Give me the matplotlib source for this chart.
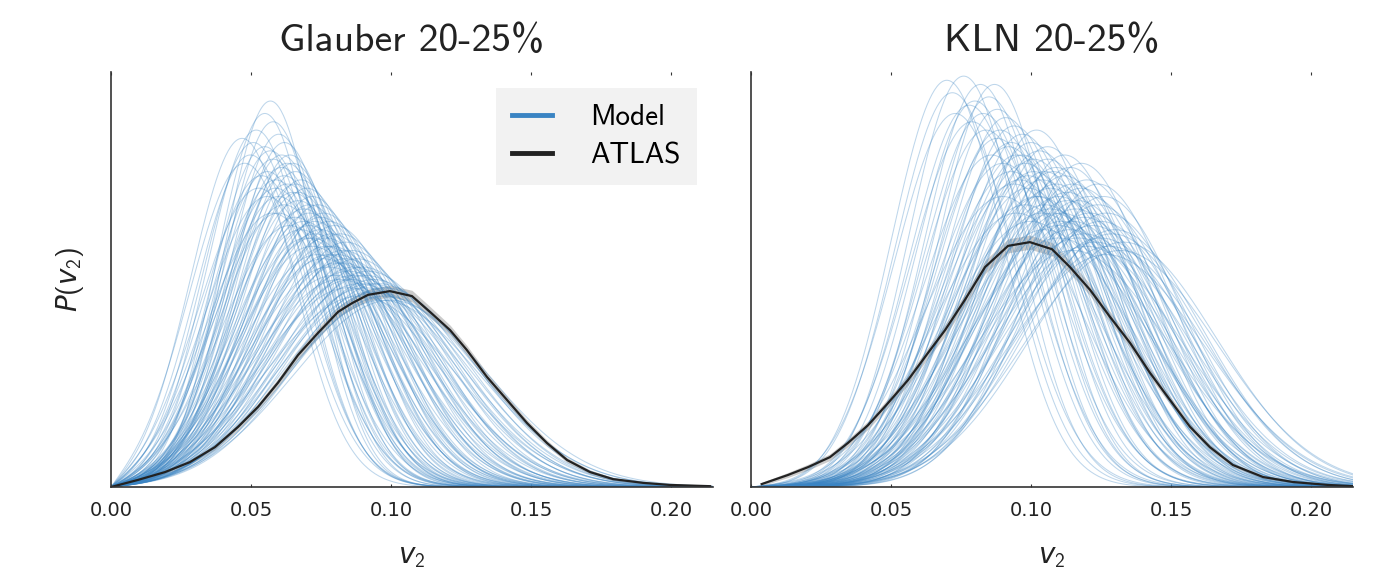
import numpy as np
import matplotlib.pyplot as plt

plt.rcParams["font.family"] = ["cmss10", "DejaVu Sans"]
plt.rcParams["mathtext.fontset"] = "custom"
plt.rcParams["mathtext.rm"] = "cmss10"
plt.rcParams["mathtext.it"] = "DejaVu Sans:italic"
plt.rcParams["axes.unicode_minus"] = False

# ATLAS v2 distribution, 20-25% (y in axis units)
glauber_atlas_v2 = [0.0, 0.0096, 0.0193, 0.0282, 0.0371, 0.0454, 0.0525, 0.0596,
                    0.0668, 0.0739, 0.0811, 0.0861, 0.0918, 0.0996, 0.1075, 0.1139,
                    0.1211, 0.1271, 0.1343, 0.1414, 0.1486, 0.1557, 0.1629, 0.1711,
                    0.1793, 0.1900, 0.1996, 0.2140]
glauber_atlas_p = [0.0, 0.017, 0.036, 0.060, 0.096, 0.145, 0.193, 0.251,
                   0.318, 0.371, 0.422, 0.443, 0.463, 0.472, 0.460, 0.422,
                   0.378, 0.330, 0.265, 0.210, 0.154, 0.106, 0.065, 0.036,
                   0.019, 0.010, 0.005, 0.002]
glauber_atlas_err = [0.002, 0.004, 0.005, 0.006, 0.007, 0.008, 0.009, 0.010,
                     0.011, 0.012, 0.013, 0.014, 0.014, 0.014, 0.014, 0.013,
                     0.012, 0.011, 0.010, 0.009, 0.008, 0.007, 0.006, 0.005,
                     0.004, 0.003, 0.002, 0.002]

kln_atlas_v2 = [0.0038, 0.0132, 0.0204, 0.0282, 0.0346, 0.0418, 0.0489, 0.0561,
                0.0632, 0.0693, 0.0764, 0.0836, 0.0918, 0.0996, 0.1075, 0.1139,
                0.1211, 0.1282, 0.1354, 0.1425, 0.1496, 0.1568, 0.1639, 0.1721,
                0.1829, 0.1936, 0.2060, 0.2150]
kln_atlas_p = [0.007, 0.029, 0.048, 0.072, 0.106, 0.149, 0.202, 0.258,
               0.323, 0.378, 0.451, 0.530, 0.581, 0.590, 0.573, 0.530,
               0.475, 0.410, 0.347, 0.275, 0.210, 0.145, 0.096, 0.053,
               0.024, 0.012, 0.005, 0.002]
kln_atlas_err = [0.004, 0.006, 0.007, 0.008, 0.009, 0.010, 0.011, 0.012,
                 0.013, 0.014, 0.015, 0.016, 0.017, 0.017, 0.016, 0.015,
                 0.014, 0.013, 0.012, 0.011, 0.010, 0.008, 0.007, 0.005,
                 0.004, 0.003, 0.002, 0.002]

# model curves: peak position and peak height of each drawn curve
glauber_mode = [0.057, 0.047, 0.055, 0.058, 0.052, 0.060, 0.055, 0.062, 0.050, 0.058,
                0.064, 0.061, 0.056, 0.066, 0.059, 0.063, 0.068, 0.053, 0.065, 0.070,
                0.060, 0.067, 0.072, 0.062, 0.069, 0.074, 0.058, 0.066, 0.071, 0.076,
                0.064, 0.073, 0.078, 0.068, 0.075, 0.080, 0.070, 0.077, 0.082, 0.072,
                0.079, 0.084, 0.074, 0.081, 0.086, 0.076, 0.083, 0.088, 0.078, 0.085,
                0.090, 0.080, 0.087, 0.092, 0.082, 0.089, 0.094, 0.091, 0.096, 0.093,
                0.048, 0.054, 0.063, 0.071, 0.085, 0.098,
                0.051, 0.057, 0.061, 0.065, 0.059, 0.067, 0.069, 0.073, 0.077, 0.081,
                0.083, 0.087, 0.091, 0.095, 0.097, 0.100, 0.089, 0.079, 0.075, 0.071,
                0.066, 0.062, 0.056, 0.086, 0.093, 0.098, 0.084, 0.078, 0.072, 0.060]
glauber_height = [0.93, 0.84, 0.90, 0.88, 0.86, 0.85, 0.82, 0.83, 0.80, 0.79,
                  0.80, 0.77, 0.76, 0.76, 0.74, 0.73, 0.74, 0.72, 0.71, 0.72,
                  0.70, 0.69, 0.70, 0.68, 0.67, 0.68, 0.66, 0.65, 0.66, 0.66,
                  0.63, 0.64, 0.64, 0.62, 0.62, 0.63, 0.60, 0.60, 0.61, 0.58,
                  0.58, 0.59, 0.56, 0.56, 0.57, 0.55, 0.54, 0.55, 0.53, 0.52,
                  0.53, 0.51, 0.51, 0.52, 0.50, 0.49, 0.50, 0.48, 0.49, 0.47,
                  0.78, 0.75, 0.78, 0.63, 0.48, 0.46,
                  0.83, 0.81, 0.80, 0.78, 0.72, 0.71, 0.64, 0.61, 0.58, 0.54,
                  0.57, 0.53, 0.51, 0.47, 0.45, 0.45, 0.46, 0.61, 0.65, 0.68,
                  0.73, 0.75, 0.70, 0.50, 0.49, 0.48, 0.55, 0.56, 0.60, 0.66]

kln_mode = [0.070, 0.076, 0.082, 0.073, 0.085, 0.088, 0.079, 0.091, 0.084, 0.094,
            0.088, 0.097, 0.092, 0.086, 0.100, 0.095, 0.090, 0.103, 0.098, 0.093,
            0.106, 0.101, 0.096, 0.109, 0.104, 0.099, 0.112, 0.107, 0.102, 0.115,
            0.110, 0.105, 0.118, 0.113, 0.108, 0.121, 0.116, 0.111, 0.124, 0.119,
            0.114, 0.127, 0.122, 0.117, 0.130, 0.125, 0.120, 0.128, 0.133, 0.090,
            0.095, 0.100, 0.105, 0.110, 0.115, 0.098, 0.108, 0.118, 0.112, 0.102,
            0.124, 0.080, 0.087,
            0.072, 0.078, 0.083, 0.089, 0.093, 0.097, 0.101, 0.105, 0.109, 0.113,
            0.117, 0.121, 0.125, 0.129, 0.132, 0.103, 0.107, 0.111, 0.115, 0.119,
            0.123, 0.127, 0.094, 0.099, 0.106, 0.114, 0.120, 0.126, 0.104, 0.110]
kln_height = [0.98, 0.99, 0.97, 0.90, 0.94, 0.91, 0.88, 0.89, 0.86, 0.87,
              0.84, 0.85, 0.82, 0.80, 0.83, 0.80, 0.78, 0.81, 0.78, 0.76,
              0.79, 0.76, 0.74, 0.77, 0.74, 0.72, 0.75, 0.72, 0.70, 0.73,
              0.70, 0.68, 0.72, 0.69, 0.66, 0.70, 0.67, 0.64, 0.68, 0.65,
              0.62, 0.66, 0.63, 0.60, 0.62, 0.60, 0.58, 0.58, 0.59, 0.70,
              0.66, 0.64, 0.62, 0.60, 0.57, 0.68, 0.76, 0.78, 0.80, 0.86,
              0.73, 0.93, 0.97,
              0.95, 0.92, 0.90, 0.86, 0.83, 0.80, 0.79, 0.76, 0.73, 0.71,
              0.69, 0.66, 0.64, 0.61, 0.57, 0.70, 0.67, 0.66, 0.64, 0.61,
              0.59, 0.56, 0.73, 0.75, 0.82, 0.77, 0.74, 0.70, 0.66, 0.63]

titles = ["Glauber 20-25%", "KLN 20-25%"]
xticks = [0.0, 0.05, 0.10, 0.15, 0.20]
xticklabels = ["0.00", "0.05", "0.10", "0.15", "0.20"]

blue = "#3a84c3"
black = "#222222"


def bessel_gauss(v, mode, height, scale):
    # Bessel-Gaussian shape with given peak position and height
    sigma = 1.0 / (height * scale * np.sqrt(2 * np.pi))
    v0 = max(mode - sigma**2 / (2 * mode), 0.0)
    z = v * v0 / sigma**2
    p = v / sigma**2 * np.exp(-(v - v0)**2 / (2 * sigma**2)) * np.i0(z) * np.exp(-z)
    return p / p.max() * height


fig = plt.figure(figsize=(13.74, 5.69), dpi=100)
ax1 = fig.add_axes([0.0808, 0.1441, 0.4381, 0.7294])
ax2 = fig.add_axes([0.5466, 0.1441, 0.4381, 0.7294])

v = np.linspace(0, 0.215, 500)
panels = [
    (ax1, glauber_mode, glauber_height, 25.0, glauber_atlas_v2, glauber_atlas_p, glauber_atlas_err),
    (ax2, kln_mode, kln_height, 20.0, kln_atlas_v2, kln_atlas_p, kln_atlas_err),
]

for i, (ax, modes, heights, scale, ax_v, ax_p, ax_e) in enumerate(panels):
    for m, h in zip(modes, heights):
        ax.plot(v, bessel_gauss(v, m, h, scale), color=blue, lw=0.75, alpha=0.33)
    ax_v = np.array(ax_v)
    ax_p = np.array(ax_p)
    ax_e = np.array(ax_e)
    ax.fill_between(ax_v, ax_p - ax_e, ax_p + ax_e, color="#999999", alpha=0.5, lw=0)
    ax.plot(ax_v, ax_p, color=black, lw=1.6)

    ax.set_xlim(0, 0.215)
    ax.set_ylim(0, 1)
    ax.set_yticks([])
    ax.set_xticks(xticks)
    ax.set_xticklabels(xticklabels, fontsize=14, family="DejaVu Sans")
    ax.tick_params(axis="x", direction="in", length=2.5, width=0.8, top=True,
                   pad=10, colors="#333333", labelcolor="#222222")
    for side in ["top", "right"]:
        ax.spines[side].set_visible(False)
    for side in ["left", "bottom"]:
        ax.spines[side].set_color("#333333")
        ax.spines[side].set_linewidth(1.2)
    ax.set_title(titles[i], fontsize=28.5, pad=15, color="#222222")
    ax.set_xlabel(r"$v_2$", fontsize=20, labelpad=18, color="#222222")

ax1.set_ylabel(r"$P(v_2)$", fontsize=20, labelpad=18, color="#222222")

handles = [plt.Line2D([], [], color=blue, lw=3.5),
           plt.Line2D([], [], color=black, lw=3.5)]
leg = ax1.legend(handles, ["Model", "ATLAS"], loc="upper right",
                 bbox_to_anchor=(0.973, 0.961), borderaxespad=0, fontsize=21,
                 frameon=True, fancybox=False, handlelength=1.4,
                 handletextpad=1.3, borderpad=0.55, labelspacing=0.38)
leg.get_frame().set_facecolor("#f2f2f2")
leg.get_frame().set_edgecolor("none")
leg.get_frame().set_alpha(1)

fig.savefig("out.png", dpi=100)
